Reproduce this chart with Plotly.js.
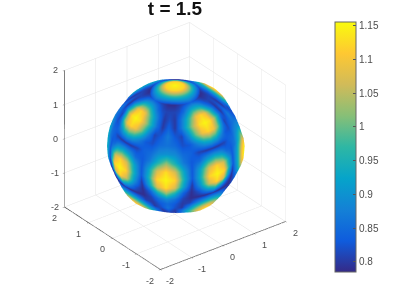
<!DOCTYPE html>
<html><head><meta charset="utf-8">
<script src="https://cdn.plot.ly/plotly-3.0.1.min.js"></script>
<style>html,body{margin:0;padding:0;background:#fff}#c{width:407px;height:305px}</style>
</head><body><div id="c"></div>
<script>
const latitudes=[90,82.5,75,67.5,60,52.5,45,37.5,30,22.5,15,7.5,0,-7.5,-15,-22.5,-30,-37.5,-45,-52.5,-60,-67.5,-75,-82.5,-90];
const lonOffsets=[0,7.5,15,22.5,30,37.5,45];
const sectorValues=[
[1.15,1.15,1.15,1.15,1.15,1.15,1.15],
[1.12,1.12,1.12,1.12,1.12,1.12,1.12],
[.95,.95,.95,.95,.95,.95,.95],
[.84,.83,.82,.81,.80,.79,.79],
[.95,.94,.90,.85,.82,.81,.81],
[1.12,1.09,1.00,.92,.85,.80,.82],
[1.15,1.13,1.05,.95,.86,.80,.84],
[1.12,1.09,1.00,.89,.81,.83,.87],
[.95,.93,.88,.83,.82,.85,.86],
[.80,.80,.81,.84,.85,.89,.90],
[.95,.92,.85,.83,.87,.95,1.02],
[1.12,1.07,.93,.83,.93,1.07,1.13],
[1.15,1.12,.95,.83,.95,1.12,1.15],
[1.12,1.06,.91,.80,.92,1.07,1.13],
[.95,.90,.83,.79,.84,.94,1.01],
[.80,.79,.79,.79,.81,.86,.89],
[.94,.92,.87,.81,.80,.83,.85],
[1.08,1.05,.98,.88,.80,.82,.86],
[1.13,1.10,1.03,.94,.85,.80,.83],
[1.08,1.05,.99,.91,.84,.80,.81],
[.93,.92,.89,.85,.82,.81,.81],
[.83,.83,.82,.81,.80,.80,.79],
[.94,.94,.94,.94,.94,.94,.94],
[1.08,1.08,1.08,1.08,1.08,1.08,1.08],
[1.13,1.13,1.13,1.13,1.13,1.13,1.13]
];
const hiddenSideLon=[37.5,150];
const hiddenSideCap=0.93;
const axisTicks=[-2,-1,0,1,2];
const colorTicks=[0.8,0.85,0.9,0.95,1,1.05,1.1,1.15];
const colorLabels=['0.8','0.85','0.9','0.95','1','1.05','1.1','1.15'];
const parula=['#352a87','#0f5cdd','#1481d6','#06a4ca','#2eb7a4','#87bf77','#d1bb59','#fec832','#f9fb0e'];

const rad=Math.PI/180;
const values=[],X=[],Y=[],Z=[];
sectorValues.forEach((row,i)=>{
  const la=latitudes[i]*rad;
  const vr=[],xr=[],yr=[],zr=[];
  for(let j=0;j<=48;j++){
    const m=j%12, k=m<=6?m:12-m, lonDeg=-180+j*7.5;
    let v=row[k];
    if(lonDeg>=hiddenSideLon[0]&&lonDeg<=hiddenSideLon[1]&&Math.abs(latitudes[i])<70) v=Math.min(v,hiddenSideCap);
    const lo=lonDeg*rad, r=1.52+0.22*v;
    vr.push(v);
    xr.push(r*Math.cos(la)*Math.cos(lo));
    yr.push(r*Math.cos(la)*Math.sin(lo));
    zr.push(r*Math.sin(la));
  }
  values.push(vr);X.push(xr);Y.push(yr);Z.push(zr);
});
const axis={range:[-2,2],tickmode:'array',tickvals:axisTicks,showticklabels:false,showgrid:true,gridcolor:'#e2e2e2',gridwidth:1,
  showline:true,linecolor:'#333',linewidth:1.5,ticks:'outside',ticklen:2,tickcolor:'#888',
  zeroline:false,showbackground:false,showspikes:false,title:{text:''}};
const tickFont={family:'Liberation Sans',size:9,color:'#4d4d4d'};
const tickLabel=(x,y,z,t,xshift,yshift)=>({x,y,z,text:String(t),showarrow:false,xshift,yshift,font:tickFont});
const labels=[
  ...axisTicks.map(t=>tickLabel(-2,2,t,t,-9,0)),
  ...axisTicks.map(t=>tickLabel(-2,t,-2,t,-10,-11)),
  ...axisTicks.map(t=>tickLabel(t,-2,-2,t,10,-11))
];
const el=30*rad, az=37.5*rad, R=2.07;
Plotly.newPlot('c',[{
  type:'surface',x:X,y:Y,z:Z,surfacecolor:values,cmin:0.785,cmax:1.1555,
  colorscale:parula.map((c,i)=>[i/(parula.length-1),c]),
  lighting:{ambient:1,diffuse:0,specular:0,roughness:1,fresnel:0},
  hoverinfo:'skip',
  contours:{x:{highlight:false},y:{highlight:false},z:{highlight:false}},
  colorbar:{thickness:21,len:250,lenmode:'pixels',x:335/407,xanchor:'left',xpad:0,y:1-22/305,yanchor:'top',ypad:0,
    tickmode:'array',tickvals:colorTicks,ticktext:colorLabels,ticks:'inside',ticklen:3,tickcolor:'#555',
    outlinecolor:'#666',outlinewidth:1,borderwidth:0,tickfont:{family:'Liberation Sans',size:10,color:'#4d4d4d'}}
}],{
  width:407,height:305,margin:{l:0,r:0,t:0,b:0},paper_bgcolor:'#fff',
  title:{text:'<b>t = 1.5</b>',font:{family:'Liberation Sans',size:19,color:'#111'},x:175/407,xanchor:'center',y:1-8/305,yanchor:'middle'},
  scene:{domain:{x:[0,350/407],y:[13/305,1]},aspectmode:'manual',aspectratio:{x:1.08,y:1.08,z:1.08},
    xaxis:axis,yaxis:axis,zaxis:axis,annotations:labels,
    camera:{projection:{type:'orthographic'},center:{x:0,y:0,z:0},up:{x:0,y:0,z:1},
      eye:{x:-R*Math.cos(el)*Math.sin(az),y:-R*Math.cos(el)*Math.cos(az),z:R*Math.sin(el)}}}
},{displayModeBar:false,staticPlot:false});
</script></body></html>
